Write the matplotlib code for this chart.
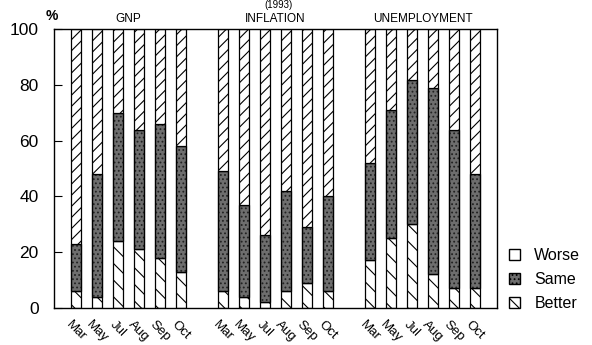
import matplotlib
matplotlib.use("Agg")
import matplotlib.pyplot as plt
import numpy as np
from matplotlib.patches import Patch

plt.rcParams['font.family'] = ['Liberation Sans', 'DejaVu Sans']
plt.rcParams['hatch.linewidth'] = 0.8

months = ["Mar", "May", "Jul", "Aug", "Sep", "Oct"]
groups = ["GNP", "INFLATION", "UNEMPLOYMENT"]

better = {
    "GNP":          [6, 4, 24, 21, 18, 13],
    "INFLATION":    [6, 4, 2, 6, 9, 6],
    "UNEMPLOYMENT": [17, 25, 30, 12, 7, 7],
}
same = {
    "GNP":          [17, 44, 46, 43, 48, 45],
    "INFLATION":    [43, 33, 24, 36, 20, 34],
    "UNEMPLOYMENT": [35, 46, 52, 67, 57, 41],
}
worse = {
    "GNP":          [77, 52, 30, 36, 34, 42],
    "INFLATION":    [51, 63, 74, 58, 71, 60],
    "UNEMPLOYMENT": [48, 29, 18, 21, 36, 52],
}

fig = plt.figure(figsize=(5.92, 3.45), dpi=100)
ax = fig.add_axes([0.0912, 0.108, 0.7483, 0.8065])

width = 0.5
gap = 7
xs_all = []
labels_all = []
for gi, g in enumerate(groups):
    x = np.arange(len(months)) + gi * gap
    b = np.array(better[g]); s = np.array(same[g]); w = np.array(worse[g])
    ax.bar(x, b, width, facecolor='white', edgecolor='black', hatch='\\\\', linewidth=0.9)
    ax.bar(x, s, width, bottom=b, facecolor='#6e6e6e', edgecolor='#222222', hatch='....', linewidth=0.9)
    ax.bar(x, s, width, bottom=b, facecolor='none', edgecolor='black', linewidth=0.9)
    ax.bar(x, w, width, bottom=b + s, facecolor='white', edgecolor='black', hatch='///', linewidth=0.9)
    xs_all.extend(x); labels_all.extend(months)
    ax.text(x.mean(), 1.015, g, transform=ax.get_xaxis_transform(), ha='center', va='bottom', fontsize=8.5)

ax.set_xlim(-1.05, 20.05)
ax.set_ylim(0, 100)
ax.set_yticks([0, 20, 40, 60, 80, 100])
ax.tick_params(axis='y', direction='in', length=6, labelsize=12.5, pad=11)
ax.set_xticks(xs_all)
ax.set_xticklabels(labels_all, rotation=-45, ha='center', va='top', fontsize=9.5)
ax.tick_params(axis='x', length=0, pad=8)
for sp in ax.spines.values():
    sp.set_linewidth(1.0)

fig.text(0.088, 0.955, "%", fontsize=10, ha='center', va='center', fontweight='bold')
fig.text(0.47, 1.0, "(1993)", fontsize=7, ha='center', va='top')

handles = [
    Patch(facecolor='white', edgecolor='black', label='Worse'),
    Patch(facecolor='#6e6e6e', edgecolor='black', hatch='....', label='Same'),
    Patch(facecolor='white', edgecolor='black', hatch='\\\\\\', label='Better'),
]
fig.legend(handles=handles, loc='center left', bbox_to_anchor=(0.835, 0.19), frameon=False,
           fontsize=11.5, handlelength=0.7, handleheight=0.7, handletextpad=0.9, labelspacing=0.55)

fig.savefig("out.png", dpi=100)
